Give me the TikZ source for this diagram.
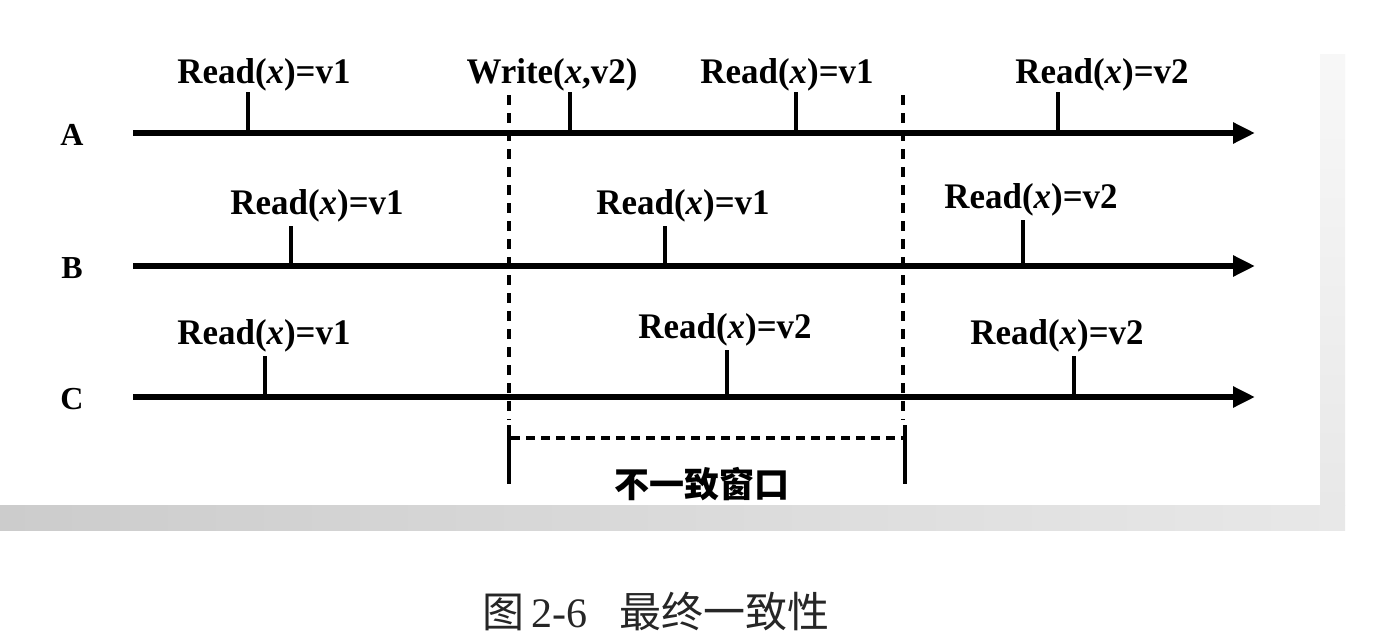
\documentclass[tikz,border=0pt]{standalone}
\usepackage{fontspec}
\setmainfont{Liberation Serif}
\newfontfamily\cjk{Noto Sans CJK SC}
\usetikzlibrary{arrows.meta}
\begin{document}
\begin{tikzpicture}[x=1pt,y=-1pt,
  timeline/.style={line width=5.5pt,-{Triangle[length=22pt,width=20pt]}},
  tick/.style={line width=4pt},
  evlabel/.style={font=\fontsize{36}{40}\selectfont\bfseries,anchor=base,inner sep=0pt,xscale=0.97},
  rowlabel/.style={font=\fontsize{32}{36}\selectfont\bfseries,inner sep=0pt},
  winline/.style={line width=4.5pt,dash pattern=on 10pt off 8pt},
  bracket/.style={line width=4.5pt},
]
\useasboundingbox (0,0) rectangle (1384,642);
\fill[white] (0,0) rectangle (1384,642);
% scanned page shadow
\shade[left color=black!20,right color=black!9] (0,505) rectangle (1345,530);
\shade[top color=black!3,bottom color=black!9] (1320,55) rectangle (1345,505);

% row labels
\node[rowlabel] (lA) at (72,135) {A};
\node[rowlabel] (lB) at (72,268) {B};
\node[rowlabel] (lC) at (72,399) {C};

% timelines
\coordinate (a0) at (133,133); \coordinate (a1) at (1255,133);
\coordinate (b0) at (133,266); \coordinate (b1) at (1255,266);
\coordinate (c0) at (133,397); \coordinate (c1) at (1255,397);
\draw[timeline] (a0) -- (a1);
\draw[timeline] (b0) -- (b1);
\draw[timeline] (c0) -- (c1);

% window boundaries
\coordinate (w1t) at (509,95); \coordinate (w1b) at (509,420);
\coordinate (w2t) at (903,95); \coordinate (w2b) at (903,420);
\draw[winline] (w1t) -- (w1b);
\draw[winline] (w2t) -- (w2b);
\coordinate (k1t) at (509,425); \coordinate (k1b) at (509,484);
\coordinate (k2t) at (905,425); \coordinate (k2b) at (905,484);
\draw[bracket] (k1t) -- (k1b);
\draw[bracket] (k2t) -- (k2b);
\coordinate (h1) at (511,438); \coordinate (h2) at (903,438);
\draw[winline,dash pattern=on 9pt off 6pt] (h1) -- (h2);
\node[font=\cjk\bfseries\fontsize{35}{38}\selectfont,inner sep=0pt] (win) at (702,484) {不一致窗口};

% A events
\draw[tick] (248,133) -- (248,92);
\draw[tick] (570,133) -- (570,92);
\draw[tick] (796,133) -- (796,92);
\draw[tick] (1058,133) -- (1058,92);
\node[evlabel] (ea1) at (264,83) {Read(\textit{x})=v1};
\node[evlabel] (ea2) at (552,83) {Write(\textit{x},v2)};
\node[evlabel] (ea3) at (787,83) {Read(\textit{x})=v1};
\node[evlabel] (ea4) at (1102,83) {Read(\textit{x})=v2};

% B events
\draw[tick] (291,266) -- (291,226);
\draw[tick] (665,266) -- (665,226);
\draw[tick] (1023,266) -- (1023,220);
\node[evlabel] (eb1) at (317,214) {Read(\textit{x})=v1};
\node[evlabel] (eb2) at (683,214) {Read(\textit{x})=v1};
\node[evlabel] (eb3) at (1031,208) {Read(\textit{x})=v2};

% C events
\draw[tick] (265,397) -- (265,356);
\draw[tick] (727,397) -- (727,350);
\draw[tick] (1074,397) -- (1074,356);
\node[evlabel] (ec1) at (264,344) {Read(\textit{x})=v1};
\node[evlabel] (ec2) at (725,338) {Read(\textit{x})=v2};
\node[evlabel] (ec3) at (1057,344) {Read(\textit{x})=v2};

% caption
\node[font=\fontsize{42}{46}\selectfont,text=black!85,inner sep=0pt] (cap) at (656,612) {{\cjk 图}\,2-6\hspace{32pt}{\cjk 最终一致性}};
\end{tikzpicture}
\end{document}
